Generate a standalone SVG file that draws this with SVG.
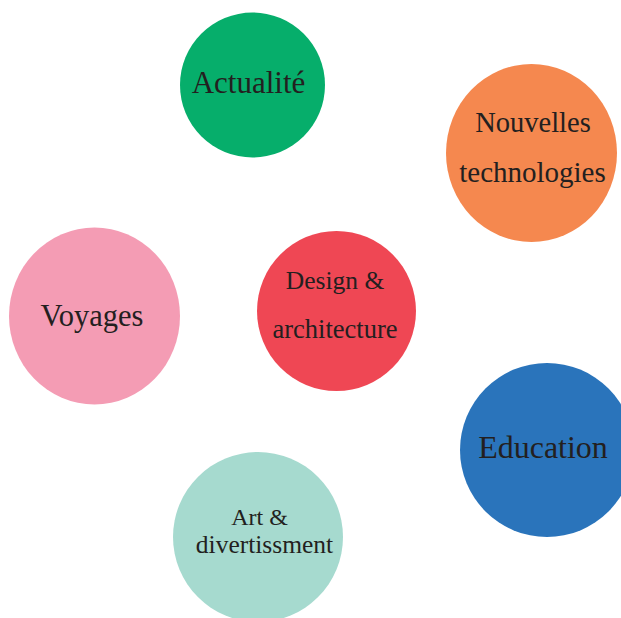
<svg xmlns="http://www.w3.org/2000/svg" width="621" height="618" viewBox="0 0 621 618">
<style>
text{font-family:"Liberation Serif","Times New Roman",serif;fill:#231F20;text-anchor:middle}
</style>
<rect width="621" height="618" fill="#ffffff"/>
<g id="connectors"></g>
<g id="actualite">
<ellipse cx="252.5" cy="85" rx="72.5" ry="72.5" fill="#06AE6B"/>
<text x="248.5" y="93" font-size="31">Actualité</text>
</g>
<g id="nouvelles-technologies">
<ellipse cx="531.5" cy="153" rx="85.5" ry="89" fill="#F5884F"/>
<text x="533" y="132" font-size="28.5">Nouvelles</text>
<text x="532.5" y="182" font-size="29">technologies</text>
</g>
<g id="voyages">
<ellipse cx="94.5" cy="316" rx="85.5" ry="88.5" fill="#F49CB4"/>
<text x="92" y="326" font-size="30.5">Voyages</text>
</g>
<g id="design-architecture">
<ellipse cx="336.5" cy="311" rx="79.5" ry="80" fill="#EF4754"/>
<text x="335" y="289" font-size="25.5">Design &amp;</text>
<text x="335" y="338" font-size="26.5">architecture</text>
</g>
<g id="education">
<ellipse cx="547" cy="450" rx="87" ry="87" fill="#2A74BB"/>
<text x="543" y="458" font-size="32">Education</text>
</g>
<g id="art-divertissment">
<ellipse cx="258" cy="537" rx="85" ry="85" fill="#A6DACF"/>
<text x="259.5" y="525" font-size="24">Art &amp;</text>
<text x="264.5" y="553" font-size="25.5">divertissment</text>
</g>
</svg>
